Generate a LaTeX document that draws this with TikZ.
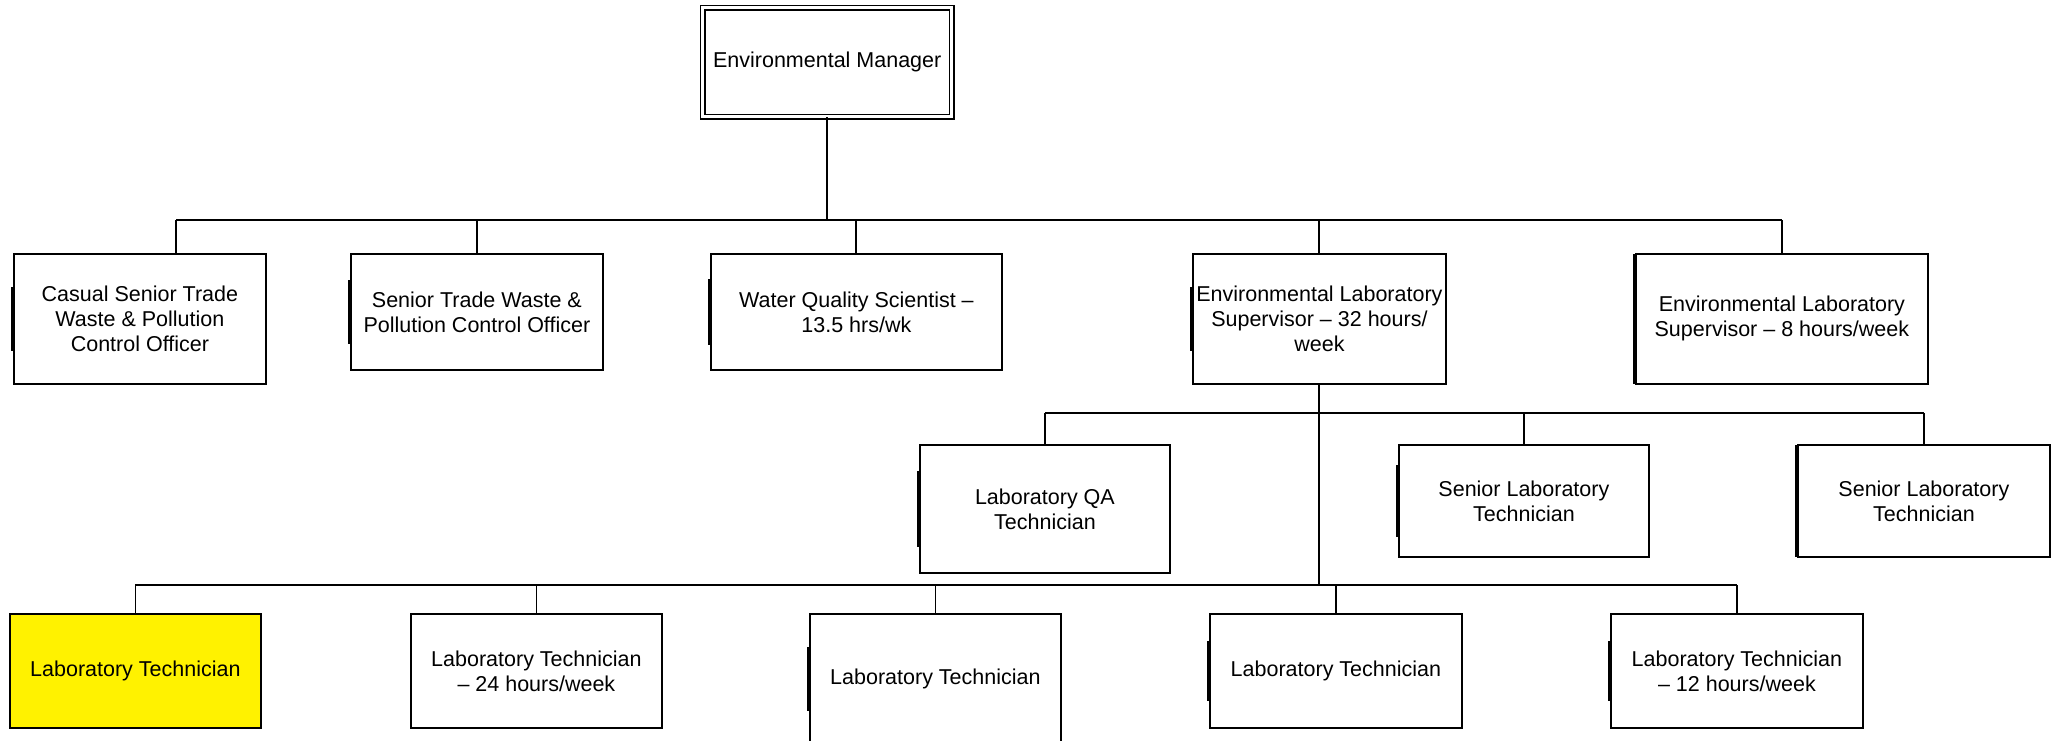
\documentclass[tikz,border=0pt]{standalone}
\usepackage{fontspec}
\setmainfont{Liberation Sans}
\usetikzlibrary{calc}
\begin{document}
\begin{tikzpicture}[x=1pt,y=-1pt,
  box/.style={draw=black,line width=1.8pt,fill=white,anchor=north west,align=center,
    inner sep=0pt,font=\fontsize{21.5}{25}\selectfont},
  mgrbox/.style={draw=black,line width=1.4pt,double=white,double distance=3pt,anchor=north west,
    align=center,inner sep=0pt,font=\fontsize{21.5}{25}\selectfont},
  conn/.style={draw=black,line width=2pt},
  thinconn/.style={draw=black,line width=1.3pt},
  leftbar/.style={draw=black,line width=3.6pt}]
\useasboundingbox (0,0) rectangle (2058,741);
% top
\node[mgrbox,minimum width=249pt,minimum height=109pt] (mgr) at (702,7) {Environmental Manager};
% row 1
\node[box,minimum width=252pt,minimum height=130pt] (c1) at (13,253) {Casual Senior Trade\\Waste \& Pollution\\Control Officer};
\node[box,minimum width=252pt,minimum height=116pt] (c2) at (350,253) {Senior Trade Waste \&\\Pollution Control Officer};
\node[box,minimum width=291pt,minimum height=116pt] (c3) at (710,253) {Water Quality Scientist --\\13.5 hrs/wk};
\node[box,minimum width=253pt,minimum height=130pt] (c4) at (1192,253) {Environmental Laboratory\\Supervisor -- 32 hours/\\week};
\node[box,minimum width=292pt,minimum height=130pt] (c5) at (1635,253) {Environmental Laboratory\\Supervisor -- 8 hours/week};
% row 2
\node[box,minimum width=250pt,minimum height=128pt] (qa) at (919,444) {Laboratory QA\\Technician};
\node[box,minimum width=250pt,minimum height=112pt] (sl1) at (1398,444) {Senior Laboratory\\Technician};
\node[box,minimum width=252pt,minimum height=112pt] (sl2) at (1797,444) {Senior Laboratory\\Technician};
% row 3
\node[box,fill=yellow,minimum width=251pt,minimum height=114pt] (lt1) at (9,613) {Laboratory Technician};
\node[box,minimum width=251pt,minimum height=114pt] (lt2) at (410,613) {Laboratory Technician\\-- 24 hours/week};
\node[box,minimum width=251pt,minimum height=130pt] (lt3) at (809,613) {Laboratory Technician};
\node[box,minimum width=252pt,minimum height=114pt] (lt4) at (1209,613) {Laboratory Technician};
\node[box,minimum width=252pt,minimum height=114pt] (lt5) at (1610,613) {Laboratory Technician\\-- 12 hours/week};
% bus levels
\coordinate (bus1) at (0,220);
\coordinate (bus2) at (0,413);
\coordinate (bus3) at (0,585);
\coordinate (c1top) at (176,253);
% level 1
\draw[conn] (mgr.south) -- (mgr.south |- bus1);
\draw[conn] (c1top |- bus1) -- (c5.north |- bus1);
\draw[conn] (c1top) -- (c1top |- bus1);
\foreach \n in {c2,c3,c4,c5} \draw[conn] (\n.north) -- (\n.north |- bus1);
% level 2
\draw[conn] (c4.south) -- (c4.south |- bus3);
\draw[conn] (qa.north |- bus2) -- (sl2.north |- bus2);
\foreach \n in {qa,sl1,sl2} \draw[conn] (\n.north) -- (\n.north |- bus2);
% level 3
\draw[conn] (lt1.north |- bus3) -- (lt5.north |- bus3);
\foreach \n in {lt1,lt2,lt3,lt4,lt5} \draw[thinconn] (\n.north) -- (\n.north |- bus3);
% thick left edges
\foreach \n/\h in {c1/32,c2/32,c3/33,c4/32,qa/38,sl1/36,lt3/32,lt4/30,lt5/30} \draw[leftbar] ([yshift=-\h pt]\n.west) -- ([yshift=\h pt]\n.west);
\foreach \n in {c5,sl2} \draw[leftbar] ([yshift=-1pt]\n.north west) -- ([yshift=1pt]\n.south west);
\end{tikzpicture}
\end{document}
